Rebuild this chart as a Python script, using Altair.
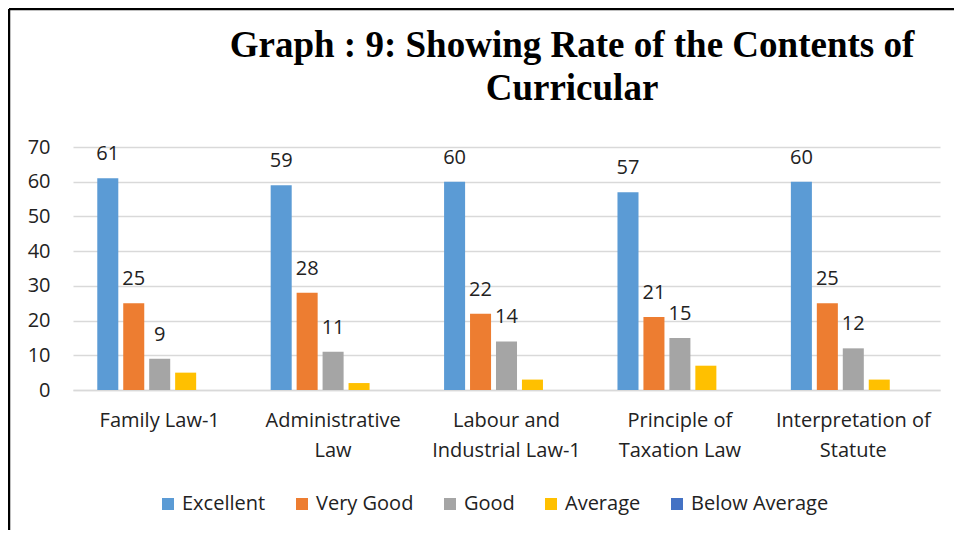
import json
import altair as alt
import pandas as pd

categories = ["Family Law-1", "Administrative Law", "Labour and Industrial Law-1",
              "Principle of Taxation Law", "Interpretation of Statute"]
category_lines = [["Family Law-1"], ["Administrative", "Law"], ["Labour and", "Industrial Law-1"],
                  ["Principle of", "Taxation Law"], ["Interpretation of", "Statute"]]
series = ["Excellent", "Very Good", "Good", "Average", "Below Average"]
colors = ["#5B9BD5", "#ED7D31", "#A5A5A5", "#FFC000", "#4472C4"]

excellent = [61, 59, 60, 57, 60]
very_good = [25, 28, 22, 21, 25]
good = [9, 11, 14, 15, 12]
average = [5, 2, 3, 7, 3]
below_average = [0, 0, 0, 0, 0]
labelled_series = ["Excellent", "Very Good", "Good"]

title_lines = ["Graph : 9: Showing Rate of the Contents of", "Curricular"]

values = [excellent, very_good, good, average, below_average]
rows = []
for s, vals in zip(series, values):
    for c, v in zip(categories, vals):
        rows.append({"category": c, "series": s, "value": v})
df = pd.DataFrame(rows)

label_map = json.dumps(dict(zip(categories, category_lines)))
FONT = "Open Sans"

x_enc = alt.X("category:N", sort=categories,
              scale=alt.Scale(paddingInner=0.28, paddingOuter=0.14),
              axis=alt.Axis(title=None, labelAngle=0, labelFont=FONT, labelFontSize=20,
                            labelColor="#222222", labelBaseline="top", labelPadding=20,
                            labelLineHeight=30, labelExpr=f"{label_map}[datum.value]",
                            ticks=False, domainColor="#D9D9D9", domainWidth=1.5, grid=False))
xoff_enc = alt.XOffset("series:N", sort=series, scale=alt.Scale(paddingInner=0.19))
y_enc = alt.Y("value:Q", scale=alt.Scale(domain=[0, 70]),
              axis=alt.Axis(title=None, values=list(range(0, 71, 10)), labelFont=FONT,
                            labelFontSize=20, labelColor="#222222", labelPadding=23,
                            ticks=False, domain=False, gridColor="#D9D9D9", gridWidth=1.5))

bars = alt.Chart(df).mark_bar().encode(
    x=x_enc, xOffset=xoff_enc, y=y_enc,
    color=alt.Color("series:N", sort=series,
                    scale=alt.Scale(domain=series, range=colors),
                    legend=alt.Legend(title=None, orient="none", legendX=85, legendY=347,
                                      direction="horizontal", symbolType="square",
                                      symbolSize=144, symbolStrokeWidth=0,
                                      labelFont=FONT, labelFontSize=20, labelColor="#222222",
                                      labelOffset=4, columnPadding=26)),
)

labels = alt.Chart(df).transform_filter(
    alt.FieldOneOfPredicate(field="series", oneOf=labelled_series)
).mark_text(baseline="alphabetic", dy=-18, font=FONT, fontSize=20, color="#222222").encode(
    x=x_enc, xOffset=xoff_enc, y=y_enc, text=alt.Text("value:Q")
)

frame_data = alt.Data(values=[{}])
left_border = alt.Chart(frame_data).mark_rule(color="black", strokeWidth=2.5).encode(
    x=alt.value(-64), y=alt.value(-138), y2=alt.value(420))
top_border = alt.Chart(frame_data).mark_rule(color="black", strokeWidth=2.5).encode(
    x=alt.value(-64), x2=alt.value(900), y=alt.value(-138))
title = alt.Chart(frame_data).mark_text(
    text=title_lines, font="Liberation Serif", fontSize=37, fontWeight="bold",
    color="black", align="center", baseline="top", lineHeight=43
).encode(x=alt.value(499), y=alt.value(-119))

chart = alt.layer(bars, labels, left_border, top_border, title).properties(
    width=867, height=243,
    autosize=alt.AutoSizeParams(type="none"),
    padding={"left": 65, "top": 139, "right": 14, "bottom": 140},
).configure_view(stroke=None)

chart.save("out.html", embed_options={"renderer": "svg", "actions": False})
